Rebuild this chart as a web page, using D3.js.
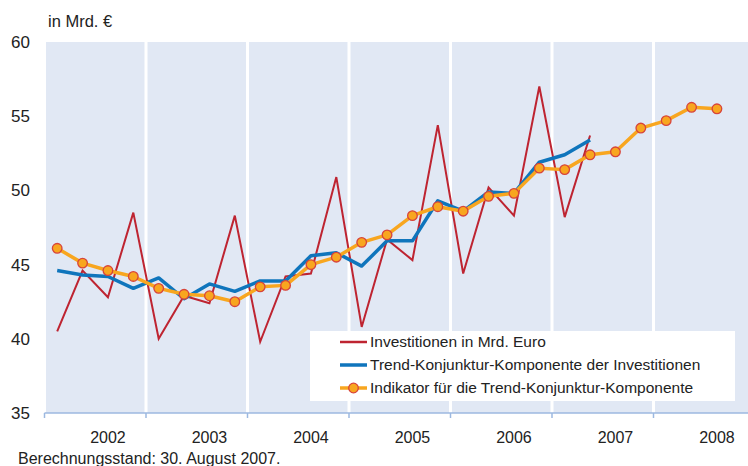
<!DOCTYPE html>
<html>
<head>
<meta charset="utf-8">
<script src="https://cdn.jsdelivr.net/npm/d3@7"></script>
<style>
  body { margin: 0; background: #fff; }
  svg { display: block; font-family: Arial, "Liberation Sans", sans-serif; }
</style>
</head>
<body>
<div id="chart"></div>
<script>
  // Quartalswerte 2002 Q1 .. 2008 Q4
  const years = ['2002', '2003', '2004', '2005', '2006', '2007', '2008'];

  const investitionen = [
    40.5, 44.6, 42.8, 48.5,
    40.0, 42.9, 42.4, 48.3,
    39.8, 44.2, 44.4, 50.9,
    40.8, 46.7, 45.3, 54.4,
    44.4, 50.2, 48.3, 57.0,
    48.2, 53.7
  ];

  const trend = [
    44.6, 44.3, 44.2, 43.4,
    44.1, 42.7, 43.7, 43.2,
    43.9, 43.9, 45.6, 45.8,
    44.9, 46.6, 46.6, 49.3,
    48.6, 49.9, 49.8, 51.9,
    52.4, 53.4
  ];

  const indikator = [
    46.1, 45.1, 44.6, 44.2,
    43.4, 43.0, 42.9, 42.5,
    43.5, 43.6, 45.0, 45.5,
    46.5, 47.0, 48.3, 48.9,
    48.6, 49.6, 49.8, 51.5,
    51.4, 52.4, 52.6, 54.2,
    54.7, 55.6, 55.5
  ];

  const yTicks = [35, 40, 45, 50, 55, 60];

  const legendLabels = [
    'Investitionen in Mrd. Euro',
    'Trend-Konjunktur-Komponente der Investitionen',
    'Indikator für die Trend-Konjunktur-Komponente'
  ];

  const RED = '#be2431';
  const BLUE = '#0f75bc';
  const ORANGE = '#f8a61f';
  const BG = '#e1e8f4';

  const width = 748, height = 466;
  const plot = { left: 46, top: 42, right: 748, bottom: 413 };
  const quarterCount = years.length * 4;

  const svg = d3.select('#chart').append('svg')
    .attr('width', width).attr('height', height);

  // x: Quartale, Position = Mitte des Quartals
  const x = d3.scaleLinear().domain([0, quarterCount]).range([44.5, 44.5 + quarterCount * 25.375]);
  const qx = (i) => x(i + 0.5);
  const y = d3.scaleLinear().domain([35, 60]).range([plot.bottom, plot.top]);

  svg.append('defs').append('clipPath').attr('id', 'clip')
    .append('rect').attr('x', plot.left).attr('y', plot.top)
    .attr('width', plot.right - plot.left).attr('height', plot.bottom - plot.top);

  // Hintergrund
  svg.append('rect')
    .attr('x', plot.left).attr('y', plot.top)
    .attr('width', plot.right - plot.left).attr('height', plot.bottom - plot.top)
    .attr('fill', BG);

  // weiße Jahrestrennlinien
  svg.append('g').selectAll('line')
    .data(d3.range(1, years.length))
    .join('line')
    .attr('x1', (d) => x(d * 4)).attr('x2', (d) => x(d * 4))
    .attr('y1', plot.top).attr('y2', plot.bottom)
    .attr('stroke', '#fff').attr('stroke-width', 3);

  // y-Achse Beschriftung
  svg.append('g').selectAll('text')
    .data(yTicks)
    .join('text')
    .attr('x', 30).attr('y', (d) => y(d))
    .attr('dy', '0.35em')
    .attr('text-anchor', 'end')
    .attr('font-size', 17)
    .attr('fill', '#222')
    .text((d) => d);

  svg.append('text')
    .attr('x', 48).attr('y', 27)
    .attr('font-size', 16.5).attr('fill', '#222')
    .text('in Mrd. €');

  // x-Achse
  const axisG = svg.append('g');
  axisG.append('line')
    .attr('x1', x(0)).attr('x2', plot.right)
    .attr('y1', plot.bottom).attr('y2', plot.bottom)
    .attr('stroke', '#9cb8e0').attr('stroke-width', 1.5);
  axisG.selectAll('line.tick')
    .data(d3.range(0, years.length))
    .join('line').attr('class', 'tick')
    .attr('x1', (d) => x(d * 4)).attr('x2', (d) => x(d * 4))
    .attr('y1', plot.bottom).attr('y2', plot.bottom + 5)
    .attr('stroke', '#9cb8e0').attr('stroke-width', 1.5);
  axisG.selectAll('text')
    .data(years)
    .join('text')
    .attr('x', (d, i) => qx(i * 4 + 2))
    .attr('y', 443)
    .attr('text-anchor', 'middle')
    .attr('font-size', 16).attr('fill', '#222')
    .text((d) => d);

  svg.append('text')
    .attr('x', 18).attr('y', 464)
    .attr('font-size', 16).attr('fill', '#222')
    .text('Berechnungsstand: 30. August 2007.');

  // Linien
  const line = d3.line().x((d, i) => qx(i)).y((d) => y(d));
  const lines = svg.append('g').attr('clip-path', 'url(#clip)');

  lines.append('path').datum(investitionen)
    .attr('d', line).attr('fill', 'none')
    .attr('stroke', RED).attr('stroke-width', 2).attr('stroke-linejoin', 'miter');

  lines.append('path').datum(trend)
    .attr('d', line).attr('fill', 'none')
    .attr('stroke', BLUE).attr('stroke-width', 3.5).attr('stroke-linejoin', 'round');

  lines.append('path').datum(indikator)
    .attr('d', line).attr('fill', 'none')
    .attr('stroke', ORANGE).attr('stroke-width', 3.5).attr('stroke-linejoin', 'round');

  lines.append('g').selectAll('circle')
    .data(indikator)
    .join('circle')
    .attr('cx', (d, i) => qx(i)).attr('cy', (d) => y(d))
    .attr('r', 4.8)
    .attr('fill', ORANGE).attr('stroke', '#d8443a').attr('stroke-width', 1.3);

  // Legende
  const legend = svg.append('g');
  legend.append('rect')
    .attr('x', 310).attr('y', 331).attr('width', 425).attr('height', 70)
    .attr('fill', '#fff');

  const rowY = [342, 365, 388];
  const rowColor = [RED, BLUE, ORANGE];
  const rowWidth = [2.5, 3.5, 3.5];
  legendLabels.forEach((label, i) => {
    legend.append('line')
      .attr('x1', 340).attr('x2', 367)
      .attr('y1', rowY[i]).attr('y2', rowY[i])
      .attr('stroke', rowColor[i]).attr('stroke-width', rowWidth[i]);
    if (i === 2) {
      legend.append('circle')
        .attr('cx', 353.5).attr('cy', rowY[i]).attr('r', 4.8)
        .attr('fill', ORANGE).attr('stroke', '#d8443a').attr('stroke-width', 1.3);
    }
    legend.append('text')
      .attr('x', 370).attr('y', rowY[i])
      .attr('dy', '0.35em')
      .attr('font-size', 15.5).attr('fill', '#222')
      .text(label);
  });
</script>
</body>
</html>
